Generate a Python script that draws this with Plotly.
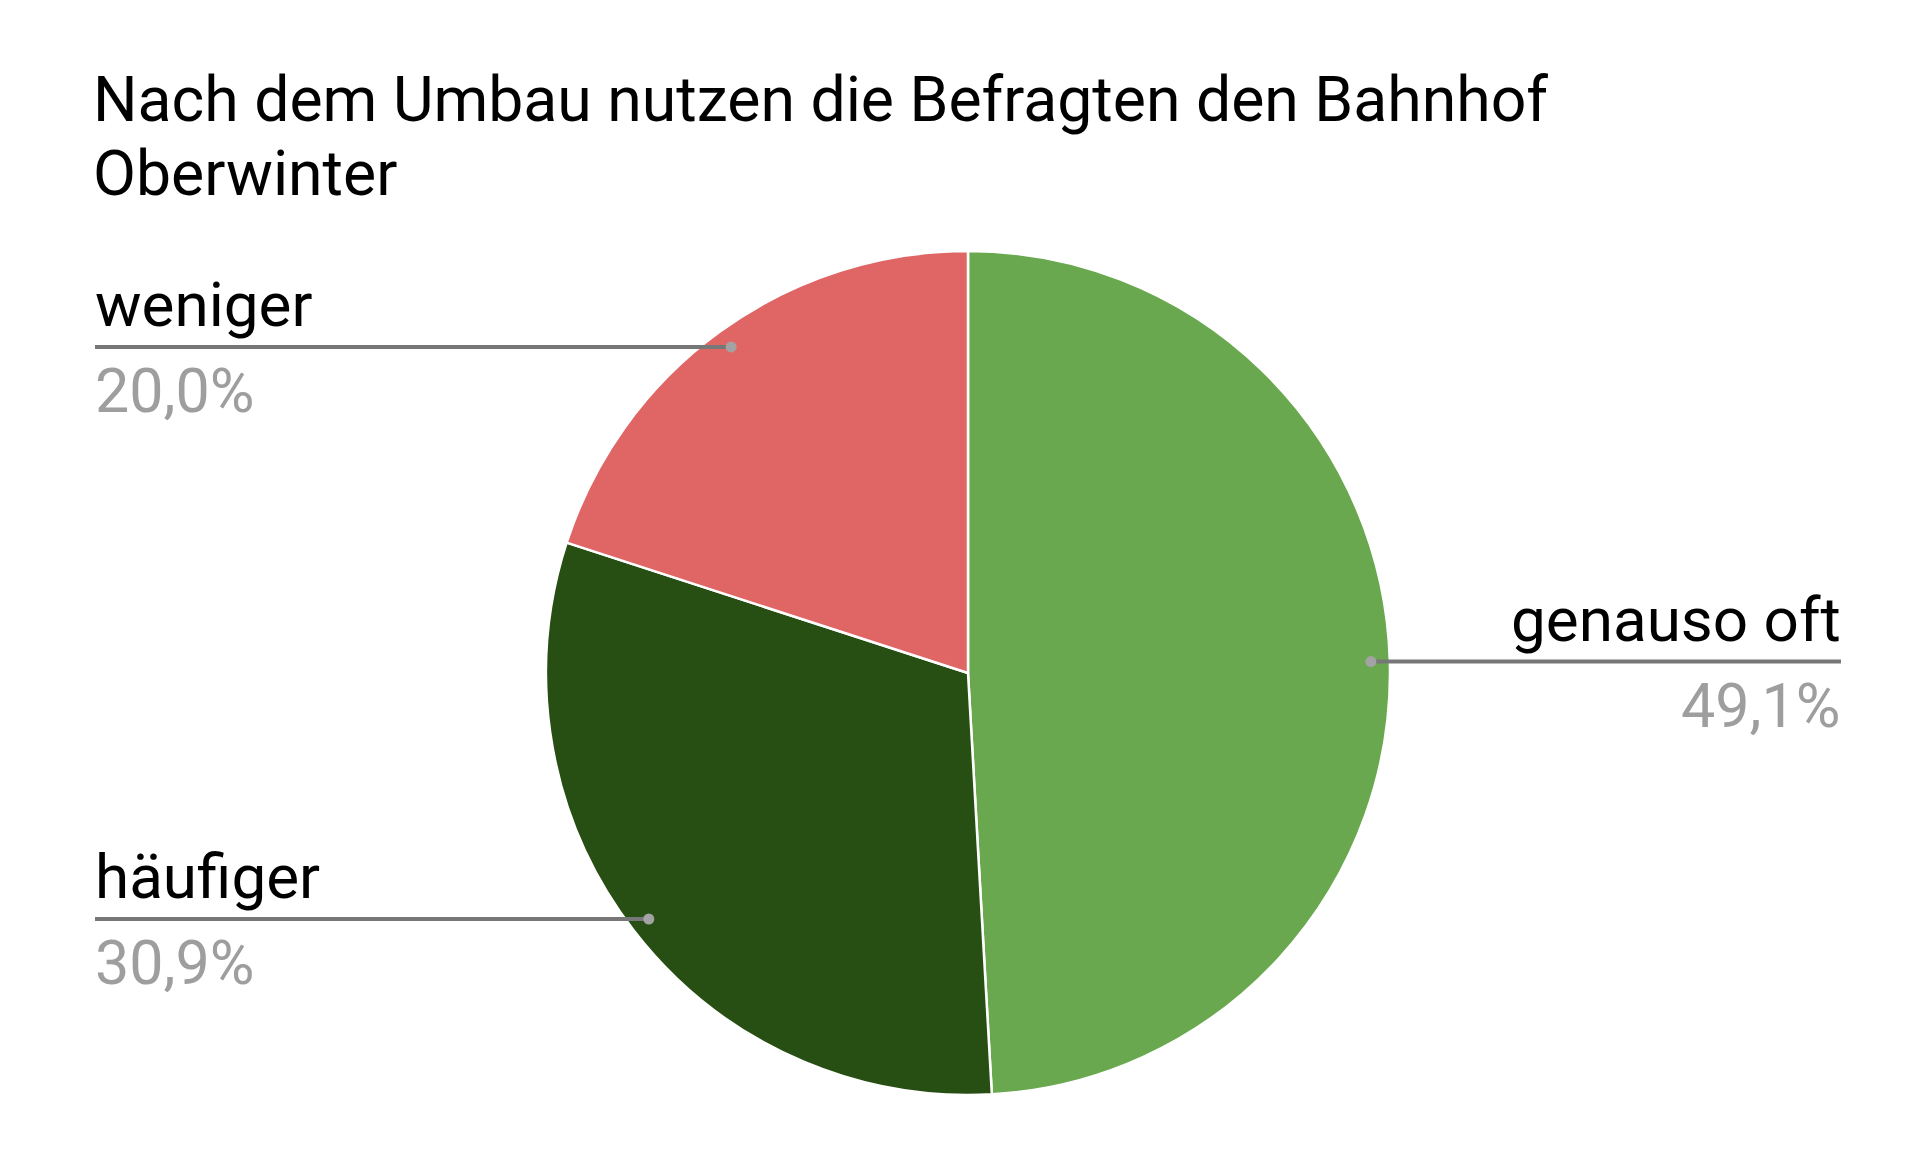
import numpy as np
import plotly.graph_objects as go

# ---- data ----
title_lines = ["Nach dem Umbau nutzen die Befragten den Bahnhof", "Oberwinter"]
categories = ["genauso oft", "häufiger", "weniger"]
shares = [49.1, 30.9, 20.0]
pct_labels = ["49,1%", "30,9%", "20,0%"]
colors = ["#6aa84f", "#274e13", "#e06666"]

# ---- layout constants (pixels) ----
W, H = 1920, 1174
CX, CY, R = 968, 673, 422
LEFT_X, RIGHT_X = 95, 1841
DOT_FRAC = 0.955
DOT_R = 5.5
FONT = "Roboto"

fig = go.Figure()
fig.add_trace(go.Pie(
    labels=categories, values=shares, sort=False, direction="clockwise", rotation=0,
    marker=dict(colors=colors, line=dict(color="white", width=2.5)),
    textinfo="none", hoverinfo="label+percent", showlegend=False,
    domain=dict(x=[(CX - R) / W, (CX + R) / W], y=[1 - (CY + R) / H, 1 - (CY - R) / H]),
))
# invisible cartesian trace so pixel-scaled axes exist for the leader shapes
fig.add_trace(go.Scatter(x=[0, W], y=[0, H], mode="markers", marker=dict(opacity=0),
                         hoverinfo="skip", showlegend=False))

# leader lines / labels derived from the slice mid-angles
total = sum(shares)
cum = 0.0
annotations, shapes = [], []
for cat, val, pct in zip(categories, shares, pct_labels):
    mid = (cum + val / 2) / total * 2 * np.pi
    cum += val
    dx = np.sin(mid) * R * DOT_FRAC
    dy = -np.cos(mid) * R * DOT_FRAC
    px, py = CX + dx, CY + dy
    if dx < 0:
        tx, lx, anchor = LEFT_X - 2, LEFT_X, "left"
    else:
        tx, lx, anchor = RIGHT_X + 2, RIGHT_X, "right"
    shapes.append(dict(type="line", xref="x", yref="y", x0=lx, x1=px, y0=py, y1=py,
                       line=dict(color="#777777", width=4), layer="above"))
    shapes.append(dict(type="circle", xref="x", yref="y",
                       x0=px - DOT_R, x1=px + DOT_R, y0=py - DOT_R, y1=py + DOT_R,
                       fillcolor="#a3a3a3", line=dict(width=0), layer="above"))
    annotations.append(dict(
        x=tx, y=py - 4, xref="x", yref="y", text=cat, showarrow=False,
        xanchor=anchor, yanchor="bottom", font=dict(family=FONT, size=62, color="#000000"),
    ))
    annotations.append(dict(
        x=tx, y=py + 6, xref="x", yref="y", text=pct, showarrow=False,
        xanchor=anchor, yanchor="top", font=dict(family=FONT, size=61, color="#9e9e9e"),
    ))

for i, line in enumerate(title_lines):
    annotations.append(dict(
        x=LEFT_X - 4, y=61 + i * 74, xref="x", yref="y", text=line, showarrow=False,
        xanchor="left", yanchor="top", font=dict(family=FONT, size=62.5, color="#000000"),
    ))

fig.update_layout(
    width=W, height=H, margin=dict(l=0, r=0, t=0, b=0),
    paper_bgcolor="white", plot_bgcolor="white",
    xaxis=dict(range=[0, W], visible=False, domain=[0, 1], fixedrange=True),
    yaxis=dict(range=[H, 0], visible=False, domain=[0, 1], fixedrange=True),
    annotations=annotations, shapes=shapes,
)

fig.write_html("out.html", config={"displayModeBar": False},
               post_script="document.body.style.margin='0';document.body.style.overflow='hidden';")
